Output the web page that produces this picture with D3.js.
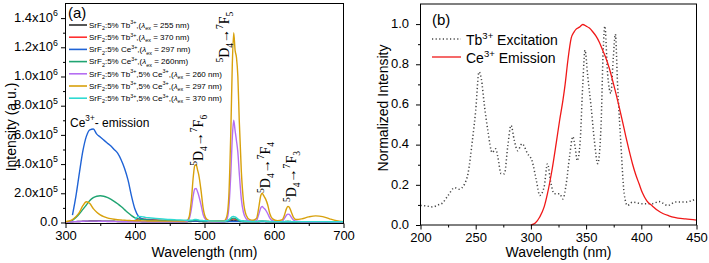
<!DOCTYPE html>
<html lang="en">
<head>
<meta charset="utf-8">
<title>SrF2 Tb/Ce spectra</title>
<script src="https://cdnjs.cloudflare.com/ajax/libs/d3/7.8.5/d3.min.js"></script>
<style>
  body { margin: 0; background: #fff; }
  svg text { font-family: "Liberation Sans", Arial, sans-serif; fill: #000; }
  svg text.serif { font-family: "Liberation Serif", "DejaVu Serif", serif; }
  .axis path { display: none; }
  .axis line { stroke: #000; }
</style>
</head>
<body>
<svg id="chart" width="709" height="263"></svg>
<script>
// ---------- panel (a): emission spectra, intensity in units of 1e5 a.u.
var wlA = [300,305,310,315,320,325,330,335,340,345,
           350,355,360,365,370,375,380,385,390,395,
           400,405,410,415,420,430,440,450,460,470,
           475,478,481,484,486,488,490,492,495,498,
           502,506,510,520,528,532,535,538,540,542,
           544,546,548,550,553,556,560,565,570,575,
           578,581,583,585,588,591,594,598,605,612,
           615,618,620,622,625,628,632,640,650,660,
           670,680,690,700];

var tb255 = [.03,.04,.05,.06,.07,.08,.09,.1,.1,.1,
             .1,.09,.09,.08,.08,.07,.07,.06,.06,.06,
             .06,.06,.05,.05,.05,.05,.05,.05,.05,.05,
             .05,.06,.07,.08,.09,.09,.08,.07,.06,.05,
             .05,.05,.05,.05,.05,.06,.08,.12,.15,.16,
             .15,.13,.11,.08,.06,.05,.05,.04,.04,.04,
             .05,.06,.06,.06,.05,.05,.04,.04,.04,.04,
             .04,.05,.05,.05,.04,.04,.04,.04,.04,.04,
             .04,.03,.03,.03];

var tb370 = [null,null,null,null,null,null,null,null,null,null,
             null,null,null,null,null,null,null,null,null,null,
             .12,.25,.24,.22,.2,.17,.15,.13,.12,.11,
             .1,.1,.11,.12,.13,.13,.12,.11,.1,.1,
             .09,.09,.09,.08,.08,.1,.14,.2,.24,.25,
             .23,.2,.16,.12,.09,.08,.07,.07,.06,.06,
             .07,.08,.08,.08,.07,.07,.06,.06,.06,.06,
             .06,.06,.07,.06,.06,.06,.05,.05,.05,.05,
             .05,.04,.04,.04];

var ce297 = [null,null,.5,1.8,3.4,4.9,5.9,6.35,6.4,6.05,
             5.85,5.65,5.45,5.25,5.0,4.75,4.3,3.7,2.9,1.8,
             .9,.42,.26,.2,.17,.14,.12,.11,.1,.09,
             .09,.09,.09,.09,.09,.09,.09,.09,.08,.08,
             .08,.08,.08,.07,.07,.07,.07,.07,.07,.07,
             .07,.07,.07,.07,.07,.07,.07,.06,.06,.06,
             .06,.06,.06,.06,.06,.06,.06,.06,.06,.05,
             .05,.05,.05,.05,.05,.05,.05,.05,.05,.04,
             .04,.04,.04,.04];

var ce260 = [.02,.05,.15,.35,.6,.9,1.2,1.5,1.7,1.8,
             1.83,1.8,1.72,1.6,1.45,1.28,1.1,.88,.66,.47,
             .32,.25,.2,.18,.16,.14,.13,.12,.11,.1,
             .1,.11,.12,.14,.15,.16,.15,.13,.11,.1,
             .09,.09,.09,.08,.08,.1,.14,.22,.28,.3,
             .28,.23,.17,.12,.09,.08,.07,.07,.06,.07,
             .08,.09,.1,.09,.08,.07,.06,.06,.05,.05,
             .06,.07,.07,.07,.06,.05,.05,.05,.05,.04,
             .04,.04,.03,.03];

var tbce260 = [.02,.03,.05,.06,.07,.08,.09,.09,.09,.09,
               .08,.08,.07,.07,.06,.06,.05,.05,.05,.05,
               .05,.05,.05,.05,.05,.05,.05,.05,.05,.06,
               .08,.25,.9,1.9,2.3,2.33,2.1,1.8,1.2,.55,
               .18,.08,.06,.05,.06,.2,1.0,3.5,5.8,7.0,
               6.3,5.6,4.8,3.4,1.6,.7,.25,.1,.08,.15,
               .55,1.0,1.1,1.0,.85,.6,.3,.12,.06,.1,
               .28,.5,.57,.55,.35,.17,.08,.05,.05,.05,
               .05,.04,.03,.02];

var tbce297 = [.05,.1,.2,.4,.7,1.15,1.42,1.3,.95,.7,
               .52,.4,.32,.26,.22,.19,.17,.15,.14,.13,
               .12,.12,.11,.11,.1,.1,.09,.09,.09,.1,
               .15,.4,1.5,3.2,3.9,3.95,3.6,3.2,2.2,1.0,
               .3,.15,.1,.08,.1,.4,1.8,6.5,10.8,13.0,
               11.8,11.3,10.0,7.0,3.5,1.5,.5,.2,.15,.3,
               1.0,1.85,2.0,1.85,1.6,1.2,.6,.25,.12,.2,
               .5,.95,1.1,1.05,.7,.35,.2,.25,.38,.45,
               .4,.25,.12,.05];

var tbce370 = [null,null,null,null,null,null,null,null,null,null,
               null,null,null,null,null,null,null,null,null,null,
               .2,.42,.4,.35,.32,.28,.24,.2,.18,.16,
               .15,.15,.16,.18,.2,.2,.18,.16,.14,.13,
               .12,.11,.1,.09,.09,.12,.2,.32,.4,.42,
               .38,.32,.25,.18,.12,.1,.08,.07,.07,.07,
               .08,.09,.1,.09,.08,.07,.07,.06,.06,.06,
               .06,.07,.07,.07,.06,.06,.06,.06,.06,.06,
               .06,.05,.05,.05];

var seriesA = [
  { label: "SrF_{2}:5% Tb^{3+},(λ_{ex} = 255 nm)", values: tb255, color: "#2b2b2b" },
  { label: "SrF_{2}:5% Tb^{3+},(λ_{ex} = 370 nm)", values: tb370, color: "#ff3030" },
  { label: "SrF_{2}:5% Ce^{3+},(λ_{ex} = 297 nm)", values: ce297, color: "#1f63d6" },
  { label: "SrF_{2}:5% Ce^{3+},(λ_{ex} = 260nm)", values: ce260, color: "#20a472" },
  { label: "SrF_{2}:5% Tb^{3+},5% Ce^{3+},(λ_{ex} = 260 nm)", values: tbce260, color: "#b56ef2" },
  { label: "SrF_{2}:5% Tb^{3+},5% Ce^{3+},(λ_{ex} = 297 nm)", values: tbce297, color: "#d8a10c" },
  { label: "SrF_{2}:5% Tb^{3+},5% Ce^{3+},(λ_{ex} = 370 nm)", values: tbce370, color: "#2fdad2" }
];

// transition labels: [wavelength, intensity] where the rotated text begins
var transitions = [
  { text: "^{5}D_{4}→^{7}F_{6}", at: [498, 3.88] },
  { text: "^{5}D_{4}→^{7}F_{5}", at: [535, 10.95] },
  { text: "^{5}D_{4}→^{7}F_{4}", at: [594, 2.02] },
  { text: "^{5}D_{4}→^{7}F_{3}", at: [632, 1.4] }
];

// ---------- panel (b): normalized spectra
var tbExWl = [200,205,211,216,220,225,231,235,240,243,
              247,250,253,255,258,261,265,268,270,273,
              276,279,282,285,288,292,297,301,305,308,
              312,315,318,321,326,329,332,335,338,340,
              342,344.5,347,349,351.5,354.5,357.5,360.5,363.5,365.5,
              367,369.5,372.5,374.5,376.5,378.5,381.5,384.5,387.5,392,
              401,410,416,424,431,440,448,450];
var tbExVal = [.097,.095,.09,.1,.11,.147,.186,.178,.205,.255,
               .42,.57,.762,.73,.59,.47,.36,.38,.34,.255,
               .255,.39,.496,.42,.37,.405,.355,.32,.22,.147,
               .19,.305,.213,.156,.156,.13,.205,.34,.44,.39,
               .32,.405,.70,.87,.74,.59,.42,.305,.49,.87,
               .99,.75,.655,.82,.95,.70,.405,.156,.097,.114,
               .106,.106,.117,.097,.114,.114,.126,.13];

var ceEmWl = [300,304,308,312,315,319,323,326,329,331,
              333.5,336.5,339,341,344,347,350,353,356,359,
              362,365,368,371,374,377,380,383,386,389,
              392,395,398,401,405,410,415,420,425,430,
              440,450];
var ceEmVal = [0,.01,.04,.09,.156,.27,.41,.52,.62,.7,
               .82,.93,.96,.975,.985,.998,.99,.98,.962,.94,
               .91,.87,.83,.78,.72,.655,.587,.515,.44,.37,
               .305,.25,.205,.16,.12,.095,.072,.056,.046,.038,
               .03,.024];

var xTicksA = [300, 400, 500, 600, 700];
var yTicksA = [0, 2, 4, 6, 8, 10, 12, 14];
var xTicksB = [200, 250, 300, 350, 400, 450];
var yTicksB = [0, 0.2, 0.4, 0.6, 0.8, 1.0];

// ---------- helpers
function rich(el, str, size) {
  var parts = str.match(/_\{[^}]*\}|\^\{[^}]*\}|λ|[^_^λ]+/g);
  var shift = 0;
  parts.forEach(function(p) {
    var txt = p, target = 0, fs = size;
    if (p[0] === "_") { txt = p.slice(2, -1); target = size * 0.3; fs = size * 0.68; }
    else if (p[0] === "^") { txt = p.slice(2, -1); target = -size * 0.42; fs = size * 0.68; }
    var t = el.append("tspan").style("font-size", fs + "px").text(txt);
    if (target - shift !== 0) t.attr("dy", target - shift);
    if (p === "λ") t.style("font-style", "italic");
    shift = target;
  });
}

function sciLabel(v) {
  if (v === 0) return "0.0";
  var n = v * 1e5, e = Math.floor(Math.log10(n) + 1e-9);
  return (n / Math.pow(10, e)).toFixed(1) + "x10^{" + e + "}";
}

var svg = d3.select("#chart");

function frame(x, y) {
  svg.append("rect")
    .attr("x", x.range()[0]).attr("y", y.range()[1])
    .attr("width", x.range()[1] - x.range()[0])
    .attr("height", y.range()[0] - y.range()[1])
    .attr("fill", "none").attr("stroke", "#000").attr("stroke-width", 1);
}

function axes(x, y, xt, xminor, yt, yminor, yfmt, ypad) {
  var bottom = y.range()[0], left = x.range()[0];
  svg.append("g").attr("class", "axis").attr("transform", "translate(0," + bottom + ")")
    .call(d3.axisBottom(x).tickValues(xminor).tickSize(2.5).tickFormat(""));
  svg.append("g").attr("class", "axis").attr("transform", "translate(0," + bottom + ")")
    .call(d3.axisBottom(x).tickValues(xt).tickSize(4.5).tickPadding(3).tickFormat(d3.format("d")))
    .selectAll("text").style("font-size", "13px");
  svg.append("g").attr("class", "axis").attr("transform", "translate(" + left + ",0)")
    .call(d3.axisLeft(y).tickValues(yminor).tickSize(2.5).tickFormat(""));
  var g = svg.append("g").attr("class", "axis").attr("transform", "translate(" + left + ",0)")
    .call(d3.axisLeft(y).tickValues(yt).tickSize(4.5).tickPadding(ypad).tickFormat(function() { return ""; }));
  g.selectAll(".tick text").each(function(d) {
    rich(d3.select(this), yfmt(d), 13);
  });
}

// ---------- panel (a)
var xA = d3.scaleLinear().domain([300, 700]).range([65.5, 343.5]);
var yA = d3.scaleLinear().domain([-0.07, 15]).range([223.5, 3.5]);

svg.append("clipPath").attr("id", "clipA").append("rect")
  .attr("x", 65.5).attr("y", 3.5).attr("width", 278).attr("height", 220);

var lineA = d3.line()
  .defined(function(d) { return d[1] != null; })
  .x(function(d) { return xA(d[0]); })
  .y(function(d) { return yA(d[1]); })
  .curve(d3.curveMonotoneX);

var plotA = svg.append("g").attr("clip-path", "url(#clipA)");
seriesA.forEach(function(s) {
  plotA.append("path")
    .datum(wlA.map(function(w, i) { return [w, s.values[i]]; }))
    .attr("d", lineA)
    .attr("fill", "none")
    .attr("stroke", s.color)
    .attr("stroke-width", 1.4);
});

axes(xA, yA, xTicksA, [350, 450, 550, 650], yTicksA, [1, 3, 5, 7, 9, 11, 13], sciLabel, 3);
frame(xA, yA);

// legend (a)
seriesA.forEach(function(s, i) {
  var ly = 25 + i * 12.2;
  svg.append("line").attr("x1", 69).attr("x2", 87).attr("y1", ly).attr("y2", ly)
    .attr("stroke", s.color).attr("stroke-width", 1.6);
  rich(svg.append("text").attr("x", 89).attr("y", ly + 2.8), s.label, 8);
});

svg.append("text").attr("x", 68).attr("y", 18).style("font-size", "15px").text("(a)");
rich(svg.append("text").attr("x", 70).attr("y", 126.5), "Ce^{3+}- emission", 12);

transitions.forEach(function(t) {
  var tx = xA(t.at[0]), ty = yA(t.at[1]);
  rich(svg.append("text").attr("class", "serif")
    .attr("transform", "translate(" + tx + "," + ty + ") rotate(-90)"), t.text, 14);
});

svg.append("text").attr("x", (xA.range()[0] + xA.range()[1]) / 2).attr("y", 257)
  .attr("text-anchor", "middle").style("font-size", "14px").text("Wavelength (nm)");
svg.append("text").attr("transform", "translate(16,127) rotate(-90)")
  .attr("text-anchor", "middle").style("font-size", "14px").text("Intensity (a.u.)");

// ---------- panel (b)
var xB = d3.scaleLinear().domain([200, 450]).range([420.5, 696.5]);
var yB = d3.scaleLinear().domain([0, 1.1]).range([225, 4]);

var lineB = d3.line()
  .x(function(d) { return xB(d[0]); })
  .y(function(d) { return yB(d[1]); })
  .curve(d3.curveMonotoneX);

svg.append("path")
  .datum(tbExWl.map(function(w, i) { return [w, tbExVal[i]]; }))
  .attr("d", lineB).attr("fill", "none")
  .attr("stroke", "#444").attr("stroke-width", 1.5).attr("stroke-dasharray", "1.2,2.4");

svg.append("path")
  .datum(ceEmWl.map(function(w, i) { return [w, ceEmVal[i]]; }))
  .attr("d", lineB).attr("fill", "none")
  .attr("stroke", "#f01818").attr("stroke-width", 1.3);

axes(xB, yB, xTicksB, [225, 275, 325, 375, 425], yTicksB, [0.1, 0.3, 0.5, 0.7, 0.9],
  function(d) { return d.toFixed(1); }, 7);
frame(xB, yB);

svg.append("text").attr("x", 432).attr("y", 25).style("font-size", "15px").text("(b)");
svg.append("line").attr("x1", 432).attr("x2", 461).attr("y1", 39).attr("y2", 39)
  .attr("stroke", "#444").attr("stroke-width", 1.5).attr("stroke-dasharray", "1.2,2.4");
rich(svg.append("text").attr("x", 466).attr("y", 44.5), "Tb^{3+} Excitation", 14);
svg.append("line").attr("x1", 432).attr("x2", 461).attr("y1", 57).attr("y2", 57)
  .attr("stroke", "#f01818").attr("stroke-width", 1.3);
rich(svg.append("text").attr("x", 466).attr("y", 62.5), "Ce^{3+} Emission", 14);

svg.append("text").attr("x", (xB.range()[0] + xB.range()[1]) / 2).attr("y", 257)
  .attr("text-anchor", "middle").style("font-size", "14px").text("Wavelength (nm)");
svg.append("text").attr("transform", "translate(388,108) rotate(-90)")
  .attr("text-anchor", "middle").style("font-size", "14px").text("Normalized Intensity");
</script>
</body>
</html>
